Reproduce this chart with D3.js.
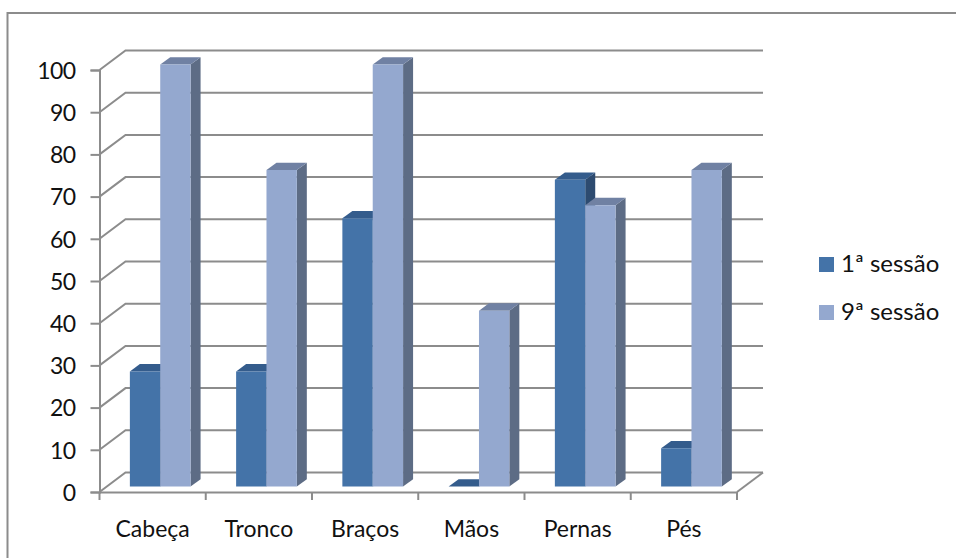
<!DOCTYPE html>
<html>
<head>
<meta charset="utf-8">
<script src="https://cdn.jsdelivr.net/npm/d3@7"></script>
<style>
  html, body { margin: 0; padding: 0; background: #fff; }
  svg { display: block; }
  text { font-family: Lato, "Open Sans", sans-serif; fill: #111; }
</style>
</head>
<body>
<svg id="chart"></svg>
<script>
var categories = ['Cabeça', 'Tronco', 'Braços', 'Mãos', 'Pernas', 'Pés'];
var seriesNames = ['1ª sessão', '9ª sessão'];
var session1 = [27.3, 27.3, 63.6, 0, 72.7, 9.1];
var session9 = [100, 75, 100, 41.7, 66.7, 75];
var yTicks = [0, 10, 20, 30, 40, 50, 60, 70, 80, 90, 100];

var width = 956, height = 558;
var axisColor = '#8c8c8c';

// front face colour, side face, top face
var seriesColors = [
  { front: '#4473a8', side: '#2d4b70', top: '#345c8c' },
  { front: '#94a8cf', side: '#5d6c85', top: '#7081a3' }
];

// depth of the floor and depth of one bar, in px
var wall = { dx: 26, dy: -19.5 };
var barDepth = { dx: 10, dy: -7.3 };
var barShift = { dx: 7.6, dy: -5.4 };

var x = d3.scaleBand().domain(categories).range([99.5, 737]);
var y = d3.scaleLinear().domain([0, 100]).range([492, 70]);

var svg = d3.select('#chart').attr('width', width).attr('height', height);

// Outer frame, open on the right and bottom
svg.append('path')
  .attr('d', 'M7.5,558V13H956')
  .attr('fill', 'none')
  .attr('stroke', '#8c8c8c')
  .attr('stroke-width', 2);

// Back wall gridlines and the side wall diagonals
var grid = svg.append('g')
  .attr('fill', 'none')
  .attr('stroke', axisColor)
  .attr('stroke-width', 2);

yTicks.forEach(function (t) {
  grid.append('path')
    .attr('d', d3.line()([
      [x.range()[0], y(t)],
      [x.range()[0] + wall.dx, y(t) + wall.dy],
      [x.range()[1] + wall.dx, y(t) + wall.dy]
    ]));
});

// Floor edge on the right
grid.append('line')
  .attr('x1', x.range()[1]).attr('y1', y(0))
  .attr('x2', x.range()[1] + wall.dx).attr('y2', y(0) + wall.dy);

// Axes
var yAxis = d3.axisLeft(y).tickValues(yTicks).tickSize(9).tickPadding(15);
var xAxis = d3.axisBottom(x).tickSize(0).tickPadding(29);

var gy = svg.append('g').attr('transform', 'translate(' + x.range()[0] + ',0)').call(yAxis);
var gx = svg.append('g').attr('transform', 'translate(0,' + y(0) + ')').call(xAxis);

[gy, gx].forEach(function (g) {
  g.select('.domain').attr('stroke', axisColor).attr('stroke-width', 2);
  g.selectAll('.tick line').attr('stroke', axisColor).attr('stroke-width', 2);
  g.selectAll('text').style('font-size', '23px').attr('fill', '#111');
});
gy.selectAll('text').style('letter-spacing', '-0.6px').attr('y', 1);

// Category boundary ticks under the floor
gx.selectAll('line.boundary')
  .data(categories.concat(['end']))
  .enter().append('line')
  .attr('class', 'boundary')
  .attr('x1', function (d, i) { return x.range()[0] + i * x.step(); })
  .attr('x2', function (d, i) { return x.range()[0] + i * x.step(); })
  .attr('y1', 0)
  .attr('y2', 8)
  .attr('stroke', axisColor)
  .attr('stroke-width', 2);

// Bars: gap is 150% of one bar width, two bars touching inside a category
var barWidth = x.step() / 3.5;

function drawBar(g, category, value, colors, offset) {
  var x0 = x(category) + barShift.dx + barWidth * (0.75 + offset);
  var x1 = x0 + barWidth;
  var yBase = y(0) + barShift.dy;
  var yTop = y(value) + barShift.dy;
  var dx = barDepth.dx, dy = barDepth.dy;
  var face = d3.line();

  g.append('path').attr('fill', colors.side)
    .attr('d', face([[x1, yTop], [x1 + dx, yTop + dy], [x1 + dx, yBase + dy], [x1, yBase]]) + 'Z');
  g.append('path').attr('fill', colors.top)
    .attr('d', face([[x0, yTop], [x0 + dx, yTop + dy], [x1 + dx, yTop + dy], [x1, yTop]]) + 'Z');
  g.append('path').attr('fill', colors.front)
    .attr('d', face([[x0, yTop], [x1, yTop], [x1, yBase], [x0, yBase]]) + 'Z');
}

var bars = svg.append('g');
categories.forEach(function (c, i) {
  var g = bars.append('g');
  drawBar(g, c, session1[i], seriesColors[0], 0);
  drawBar(g, c, session9[i], seriesColors[1], 1);
});

// Legend
var legendY = d3.scalePoint().domain(seriesNames).range([264.5, 312.5]);
var legend = svg.append('g').selectAll('g')
  .data(seriesNames)
  .enter().append('g')
  .attr('transform', function (d) { return 'translate(819,' + legendY(d) + ')'; });

legend.append('rect')
  .attr('y', -7.5)
  .attr('width', 15)
  .attr('height', 15)
  .attr('fill', function (d, i) { return seriesColors[i].front; });

legend.append('text')
  .attr('x', 22)
  .attr('y', -1)
  .attr('dy', '0.34em')
  .style('font-size', '24px')
  .text(function (d) { return d; });
</script>
</body>
</html>
